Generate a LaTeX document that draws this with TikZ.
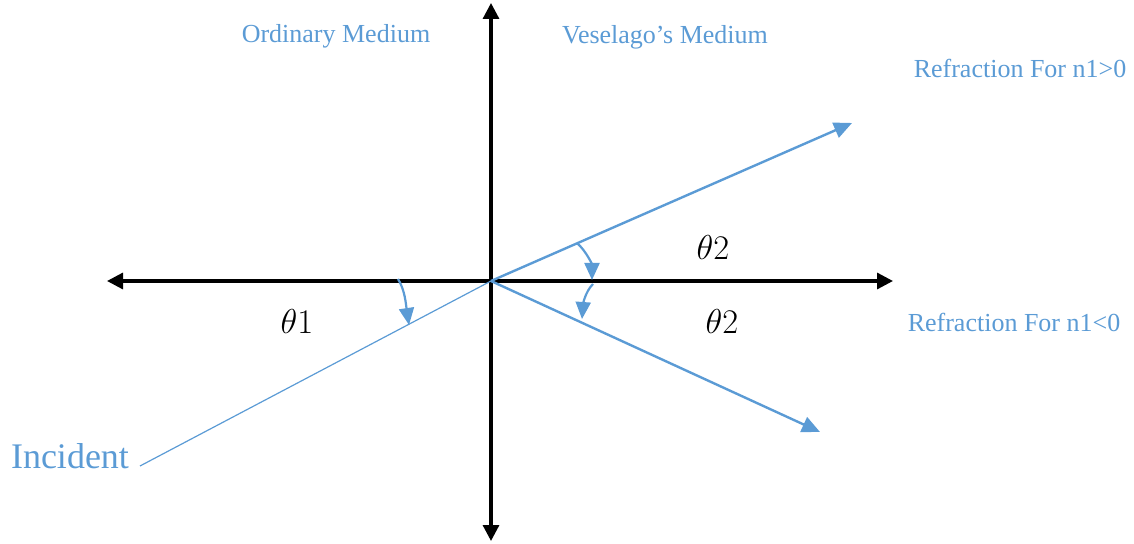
\documentclass[tikz,border=0pt]{standalone}
\usepackage{fontspec}
\setmainfont{Liberation Serif}
\usepackage{amsmath}
\usetikzlibrary{arrows.meta, positioning}
\definecolor{raysblue}{RGB}{91,155,213}

\begin{document}
\begin{tikzpicture}[x=0.5pt, y=-0.5pt,
  axis/.style={line width=1.6pt, {Triangle[length=8pt,width=8pt]}-{Triangle[length=8pt,width=8pt]}},
  ray/.style={raysblue, line width=1.2pt, -{Triangle[length=9pt,width=8pt]}},
  turn/.style={raysblue, line width=1.1pt, -{Triangle[length=8.5pt,width=7.5pt]}},
  lbl/.style={raysblue, font=\fontsize{13}{15}\selectfont},
  ang/.style={font=\fontsize{19}{21}\selectfont}]
\useasboundingbox (0,0) rectangle (1134,544);
% axes
\coordinate (O) at (491,281);
\coordinate (xl) at (107,281);
\coordinate (xr) at (893,281);
\coordinate (yt) at (491,3);
\coordinate (yb) at (491,541);
\draw[axis] (xl) -- (xr);
\draw[axis] (yt) -- (yb);
% rays
\coordinate (inc) at (140,466);
\coordinate (up) at (852,123);
\coordinate (down) at (820,432);
\draw[raysblue, line width=0.6pt] (inc) -- (O);
\draw[ray] (O) -- (up);
\draw[ray] (O) -- (down);
% angle arrows
\coordinate (a1) at (398,279);
\coordinate (a1e) at (409,325);
\coordinate (a2) at (577,243);
\coordinate (a2e) at (592,280);
\coordinate (a3) at (593,284);
\coordinate (a3e) at (582,319);
\draw[turn] (a1) .. controls (405,290) and (406,305) .. (a1e);
\draw[turn] (a2) .. controls (587,252) and (592,265) .. (a2e);
\draw[turn] (a3) .. controls (585,292) and (583,305) .. (a3e);
% labels
\node[lbl] (ordinary) at (336,36) {Ordinary Medium};
\node[lbl] (veselago) at (665,37) {Veselago’s Medium};
\node[lbl] (refpos) at (1020,68) {Refraction For n1>0};
\node[lbl] (refneg) at (1014,322) {Refraction For n1<0};
\node[raysblue, font=\fontsize{18}{20}\selectfont] (incident) at (70,456) {Incident};
\node[ang] (th1) at (297,322) {$\theta 1$};
\node[ang] (th2a) at (713,248) {$\theta 2$};
\node[ang] (th2b) at (722,322) {$\theta 2$};
\end{tikzpicture}
\end{document}
